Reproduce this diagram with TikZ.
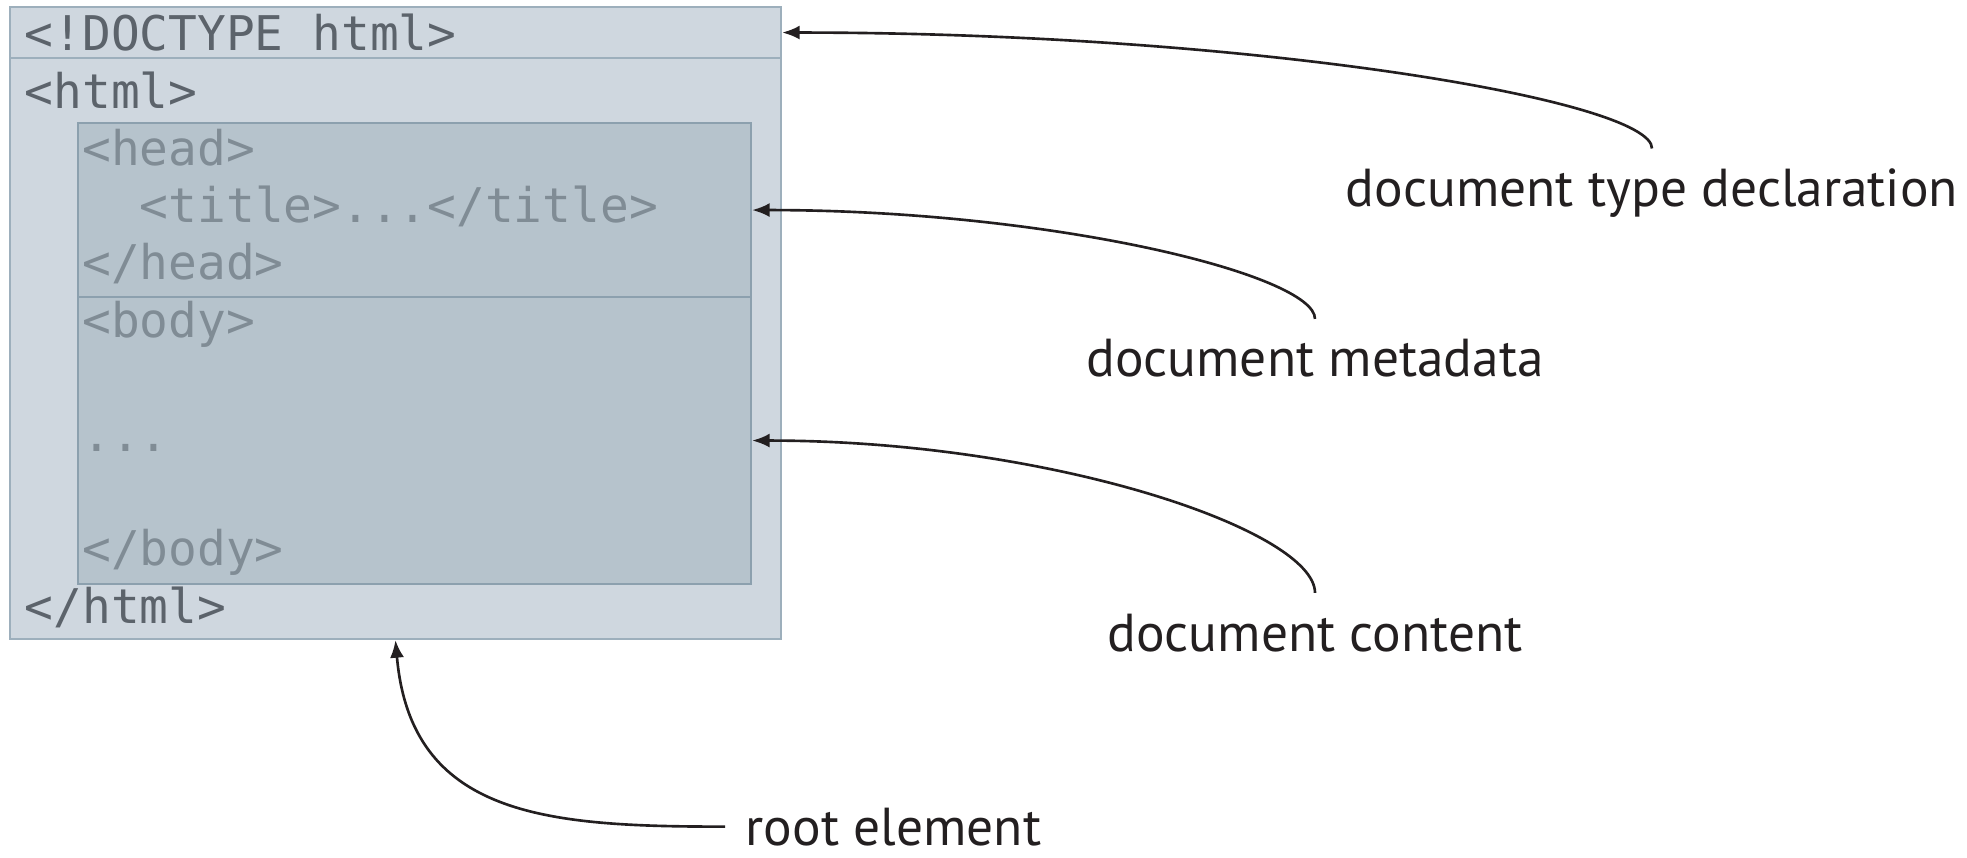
\documentclass[tikz,border=0pt]{standalone}
\usepackage{fontspec}
\setmainfont{PT Sans}
\newfontfamily\codefont{DejaVu Sans Mono}
\usetikzlibrary{arrows.meta}

\definecolor{outerfill}{HTML}{CFD7DF}
\definecolor{outerline}{HTML}{9DAFBC}
\definecolor{innerfill}{HTML}{B6C3CC}
\definecolor{innerline}{HTML}{8CA0AE}
\definecolor{outertext}{HTML}{5C636B}
\definecolor{innertext}{HTML}{808C95}
\definecolor{arrowink}{HTML}{231F20}

\begin{document}
\begin{tikzpicture}
\tikzstyle{outerbox} = [draw=outerline, fill=outerfill, line width=0.6pt, inner sep=0, minimum width=7.712cm, anchor=north west]
\tikzstyle{innerbox} = [draw=innerline, fill=innerfill, line width=0.6pt, inner sep=0, minimum width=6.735cm, anchor=north west]
\tikzstyle{code} = [inner sep=0, anchor=base west, font=\codefont\fontsize{13.6pt}{16pt}\selectfont]
\tikzstyle{anno} = [inner sep=0.2cm, anchor=base, text=arrowink, font=\fontsize{15.2pt}{18pt}\selectfont]
\tikzstyle{pointer} = [-{Latex[length=5pt,width=4pt]}, line width=0.75pt, draw=arrowink]

\useasboundingbox (0,0) rectangle (19.67,8.57);

% boxes
\node[outerbox, minimum height=0.51cm] (doctype) at (0.088,8.51) {};
\node[outerbox, minimum height=5.81cm] (html) at (0.088,8.00) {};
\node[innerbox, minimum height=1.74cm] (head) at (0.765,7.35) {};
\node[innerbox, minimum height=2.87cm] (body) at (0.765,5.61) {};

% markup
\node[code, text=outertext] (l0) at (0.24,8.060) {<!DOCTYPE html>};
\node[code, text=outertext] (l1) at (0.24,7.488) {<html>};
\node[code, text=innertext] (l2) at (0.816,6.916) {<head>};
\node[code, text=innertext] (l3) at (1.392,6.344) {<title>...</title>};
\node[code, text=innertext] (l4) at (0.816,5.772) {</head>};
\node[code, text=innertext] (l5) at (0.816,5.200) {<body>};
\node[code, text=innertext] (l7) at (0.816,4.056) {...};
\node[code, text=innertext] (l9) at (0.816,2.912) {</body>};
\node[code, text=outertext] (l10) at (0.24,2.340) {</html>};

% callouts
\node[anno] (decl) at (16.52,6.50) {document type declaration};
\node[anno] (meta) at (13.15,4.80) {document metadata};
\node[anno] (content) at (13.15,2.06) {document content};
\node[anno, inner ysep=0.02cm, anchor=base west] (root) at (7.25,0.12) {root element};

\draw[pointer] (decl.north) .. controls +(0,0.48) and +(4.7,0) .. (doctype.east);
\draw[pointer] (meta.north) .. controls +(0,0.44) and +(3.0,0) .. (head.east);
\draw[pointer] (content.north) .. controls +(0,0.62) and +(3.0,0) .. (body.east);
\draw[pointer] (root.west) to[out=180,in=-85,looseness=1.2] (html.south);

\end{tikzpicture}
\end{document}
